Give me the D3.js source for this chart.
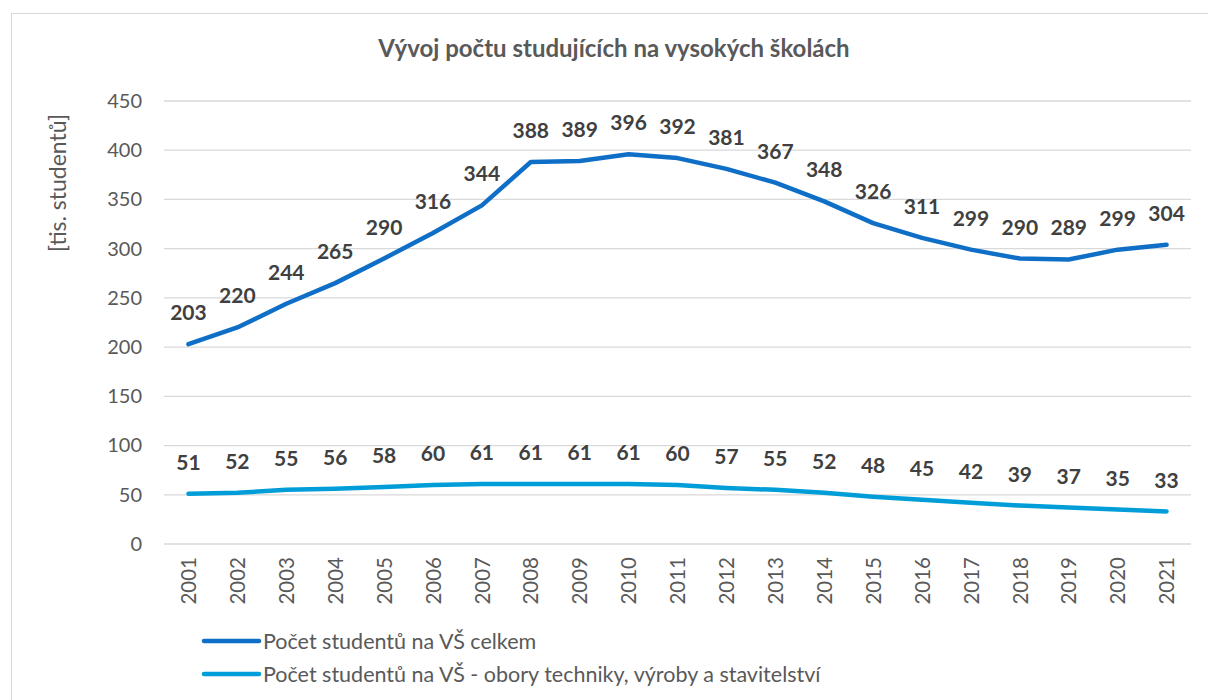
<!DOCTYPE html>
<html>
  <head>
    <meta charset="utf-8" />
    <script src="https://d3js.org/d3.v7.min.js"></script>
  </head>
  <body>
    <svg id="viz" width="1208" height="700"></svg>
  </body>
  <script>
    const years = ["2001", "2002", "2003", "2004", "2005", "2006", "2007", "2008", "2009", "2010", "2011",
      "2012", "2013", "2014", "2015", "2016", "2017", "2018", "2019", "2020", "2021"];
    const celkem = [203, 220, 244, 265, 290, 316, 344, 388, 389, 396, 392, 381, 367, 348, 326, 311, 299, 290, 289, 299, 304];
    const technika = [51, 52, 55, 56, 58, 60, 61, 61, 61, 61, 60, 57, 55, 52, 48, 45, 42, 39, 37, 35, 33];
    const yTicks = [0, 50, 100, 150, 200, 250, 300, 350, 400, 450];
    const seriesNames = [
      "Počet studentů na VŠ celkem",
      "Počet studentů na VŠ - obory techniky, výroby a stavitelství",
    ];
    const colors = ["#0F6FC6", "#009DD9"];

    function draw() {
      const svg = d3.select("svg#viz");
      const font = "Lato, 'Open Sans', sans-serif";

      svg.append("rect").attr("width", 1208).attr("height", 700).attr("fill", "#fff");
      svg.append("rect")
        .attr("x", 11.5).attr("y", 13.5).attr("width", 1220).attr("height", 720)
        .attr("fill", "none").attr("stroke", "#d9d9d9").attr("stroke-width", 1);

      const left = 164, right = 1191, top = 101, bottom = 544;

      const x = d3.scalePoint().domain(years).range([left, right]).padding(0.5);
      const y = d3.scaleLinear().domain([0, 450]).range([bottom, top]);

      // gridlines
      svg.append("g")
        .selectAll("line")
        .data(yTicks)
        .join("line")
        .attr("x1", left).attr("x2", right)
        .attr("y1", (d) => y(d)).attr("y2", (d) => y(d))
        .attr("stroke", "#d9d9d9").attr("stroke-width", 1.3);

      // y axis
      const yAxis = svg.append("g")
        .attr("transform", `translate(${left - 22},0)`)
        .call(d3.axisLeft(y).tickValues(yTicks).tickSize(0).tickPadding(0));
      yAxis.select(".domain").remove();
      yAxis.selectAll("text")
        .attr("font-family", font).attr("font-size", 20).attr("fill", "#595959");

      // x axis
      const xAxis = svg.append("g")
        .attr("transform", `translate(0,${bottom})`)
        .call(d3.axisBottom(x).tickSize(0));
      xAxis.select(".domain").remove();
      xAxis.selectAll("text")
        .attr("font-family", font).attr("font-size", 20.5).attr("fill", "#595959")
        .attr("text-anchor", "end")
        .attr("transform", "rotate(-90)")
        .attr("x", -13).attr("y", 0).attr("dy", "0.35em");

      // lines
      const line = d3.line().x((d, i) => x(years[i])).y((d) => y(d));
      [celkem, technika].forEach((series, k) => {
        svg.append("path")
          .datum(series)
          .attr("d", line)
          .attr("fill", "none")
          .attr("stroke", colors[k])
          .attr("stroke-width", 4.5)
          .attr("stroke-linejoin", "round")
          .attr("stroke-linecap", "round");

        svg.append("g")
          .selectAll("text")
          .data(series)
          .join("text")
          .attr("x", (d, i) => x(years[i]))
          .attr("y", (d) => y(d) - 24)
          .attr("text-anchor", "middle")
          .attr("font-family", font).attr("font-size", 21).attr("font-weight", "bold")
          .attr("fill", "#404040")
          .text((d) => d);
      });

      // title
      svg.append("text")
        .attr("x", 614).attr("y", 57)
        .attr("text-anchor", "middle")
        .attr("font-family", font).attr("font-size", 24).attr("font-weight", "bold")
        .attr("fill", "#595959")
        .text("Vývoj počtu studujících na vysokých školách");

      // y label
      svg.append("text")
        .attr("transform", "translate(66,183) rotate(-90)")
        .attr("text-anchor", "middle")
        .attr("font-family", font).attr("font-size", 23)
        .attr("fill", "#595959")
        .text("[tis. studentů]");

      // legend
      const legend = svg.append("g")
        .selectAll("g")
        .data(seriesNames)
        .join("g")
        .attr("transform", (d, i) => `translate(204,${641 + i * 33})`);
      legend.append("line")
        .attr("x1", 0).attr("x2", 55)
        .attr("stroke", (d, i) => colors[i])
        .attr("stroke-width", 4.5)
        .attr("stroke-linecap", "round");
      legend.append("text")
        .attr("x", 59).attr("dy", "0.35em")
        .attr("font-family", font).attr("font-size", 21.5)
        .attr("fill", "#595959")
        .text((d) => d);
    }

    draw();
  </script>
  <style>
    body {
      margin: 0px;
    }
  </style>
</html>
